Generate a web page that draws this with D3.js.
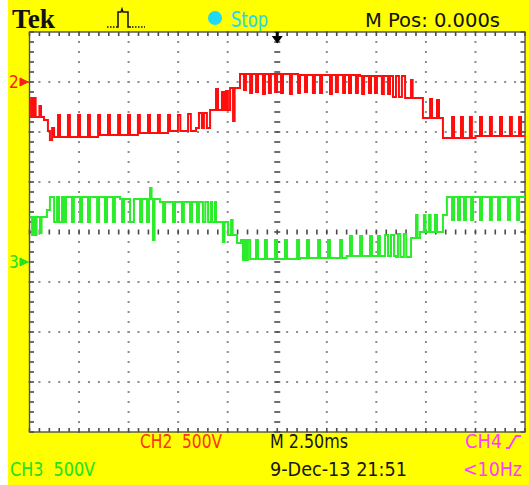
<!DOCTYPE html>
<html>
<head>
<meta charset="utf-8">
<script src="https://cdn.jsdelivr.net/npm/d3@7"></script>
<style>
  html, body { margin: 0; padding: 0; background: #fff; }
  svg { display: block; }
  text { white-space: pre; }
</style>
</head>
<body>
<svg id="scope" width="529" height="485"></svg>
<script>
// ---- acquisition settings ----
const timeRange = [-12.5, 12.5];      // ms, 2.50 ms/div, 10 divisions
const divRange = [-4, 4];             // vertical divisions
const voltsPerDiv = 500;
const channelOffsets = { ch2: 3.0, ch3: -0.6 };   // ground marker, divisions from centre

// ---- CH2 (red): carrier level steps [ms, V] ----
const ch2Levels = [
  [-12.50, -350], [-11.77, -380], [-11.57, -490], [-11.47, -580], [-11.36, -460],
  [-11.26, -550], [-8.94, -530], [-6.93, -510], [-5.41, -490], [-4.10, -460],
  [-3.39, -280], [-2.38, -60], [-1.88, 80], [1.15, 70], [4.18, 60],
  [6.45, -160], [7.35, -360], [8.36, -560], [10.00, -540]
];
// ---- CH2 PWM pulses [start ms, width ms, V] ----
const ch2Pulses = [
  [-12.42, 0.08, -160], [-12.27, 0.08, -160], [-12.00, 0.08, -240],
  [-11.06, 0.10, -330], [-10.56, 0.10, -330], [-10.05, 0.10, -330], [-9.55, 0.10, -330],
  [-9.04, 0.10, -330], [-8.54, 0.10, -330], [-8.03, 0.10, -330], [-7.53, 0.10, -330],
  [-7.03, 0.10, -330], [-6.52, 0.10, -330], [-6.02, 0.10, -330], [-5.51, 0.12, -330],
  [-5.01, 0.12, -330], [-4.50, 0.14, -320], [-3.95, 0.15, -310], [-3.70, 0.15, -310],
  [-3.09, 0.10, -70], [-2.79, 0.10, -100], [-2.59, 0.10, -90], [-2.23, 0.08, -390],
  [-1.68, 0.10, -80], [-1.37, 0.10, -110], [-1.07, 0.10, -100], [-0.72, 0.10, -120],
  [-0.42, 0.10, -110], [-0.11, 0.10, -100], [0.19, 0.10, -110], [0.64, 0.10, -120],
  [1.05, 0.10, -110], [1.40, 0.10, -100], [1.80, 0.10, -110], [2.16, 0.10, -110],
  [2.66, 0.10, -120], [2.96, 0.10, -100], [3.32, 0.10, -110], [3.62, 0.10, -110],
  [3.97, 0.10, -110], [4.28, 0.10, -120], [4.63, 0.10, -110], [4.93, 0.10, -110],
  [5.28, 0.10, -120], [5.59, 0.10, -120], [5.84, 0.15, -150], [6.14, 0.15, -150],
  [6.75, 0.08, 20], [7.71, 0.10, -170], [8.06, 0.10, -180],
  [8.82, 0.10, -350], [9.27, 0.10, -350], [9.72, 0.10, -350], [10.23, 0.10, -350],
  [10.73, 0.10, -350], [11.24, 0.10, -350], [11.74, 0.10, -350], [12.20, 0.10, -350]
];

// ---- CH3 (green): carrier level steps [ms, V] ----
const ch3Levels = [
  [-12.50, 450], [-11.62, 520], [-11.47, 650], [-7.93, 630], [-5.92, 600],
  [-3.09, 400], [-2.48, 270], [-2.03, 190], [-1.83, 220], [-1.37, 30],
  [1.15, 40], [3.50, 60], [5.99, 50], [6.75, 240], [7.20, 300],
  [8.36, 470], [8.56, 650]
];
// ---- CH3 PWM pulses [start ms, width ms, V] ----
const ch3Pulses = [
  [-12.37, 0.08, 270], [-12.22, 0.08, 270], [-11.97, 0.08, 290],
  [-11.26, 0.15, 400], [-11.01, 0.15, 400], [-10.76, 0.10, 400], [-10.36, 0.10, 400],
  [-9.95, 0.10, 400], [-9.55, 0.10, 400], [-9.09, 0.10, 400], [-8.69, 0.10, 400],
  [-8.29, 0.10, 400], [-7.83, 0.10, 400], [-7.43, 0.20, 400], [-6.92, 0.10, 400],
  [-6.57, 0.10, 400], [-6.42, 0.08, 740], [-6.27, 0.08, 220], [-5.76, 0.10, 400],
  [-5.26, 0.10, 400], [-4.81, 0.10, 400], [-4.40, 0.10, 400], [-4.05, 0.10, 400],
  [-3.75, 0.12, 400], [-3.49, 0.15, 400], [-3.29, 0.15, 400],
  [-2.74, 0.08, 200], [-2.33, 0.08, 420], [-1.73, 0.10, 20], [-1.58, 0.10, 20],
  [-1.07, 0.10, 220], [-0.62, 0.10, 220], [-0.11, 0.10, 220], [0.39, 0.10, 220],
  [1.00, 0.10, 220], [1.50, 0.10, 220], [2.06, 0.10, 220], [2.56, 0.10, 220],
  [3.17, 0.10, 220], [3.67, 0.10, 260], [4.18, 0.10, 260], [4.68, 0.10, 260],
  [5.08, 0.10, 260], [5.44, 0.15, 270], [5.74, 0.15, 270],
  [6.09, 0.12, 280], [6.39, 0.12, 280], [7.00, 0.08, 470], [7.40, 0.08, 470],
  [7.66, 0.08, 470], [7.96, 0.10, 470],
  [8.82, 0.10, 420], [9.12, 0.10, 420], [9.42, 0.10, 420], [9.78, 0.10, 420],
  [10.23, 0.10, 420], [10.73, 0.10, 420], [11.14, 0.10, 420], [11.64, 0.10, 420],
  [12.10, 0.10, 420]
];

// ---- readout labels ----
const headerLabels = { brand: "Tek", state: "Stop", position: "M Pos: 0.000s" };
const footerRow1 = [
  { text: "CH2  500V", x: 140, w: 82, color: "#ff3218" },
  { text: "M 2.50ms", x: 270, w: 78, color: "#151515" },
  { text: "CH4", x: 465, w: 37, color: "#ff3cff" }
];
const footerRow2 = [
  { text: "CH3  500V", x: 10, w: 85, color: "#22e022" },
  { text: "9-Dec-13 21:51", x: 270, w: 137, color: "#151515" },
  { text: "<10Hz", x: 463, w: 59, color: "#ff3cff" }
];

// ---- layout ----
const W = 529, H = 485;
const plot = { left: 29.5, right: 525, top: 32, bottom: 432 };
const narrow = "'Liberation Sans Narrow','DejaVu Sans Condensed','Liberation Sans',Arial,sans-serif";

const svg = d3.select("#scope");

const x = d3.scaleLinear().domain(timeRange).range([plot.left, plot.right]);
const yDiv = d3.scaleLinear().domain(divRange).range([plot.bottom, plot.top]);
const yCh = off => v => yDiv(off + v / voltsPerDiv);

// background
svg.append("rect").attr("x", 0).attr("y", 0).attr("width", W).attr("height", H).attr("fill", "#fff");
svg.append("rect").attr("x", 8).attr("y", 0).attr("width", W - 8).attr("height", H).attr("fill", "#ffff00");
svg.append("rect")
  .attr("x", plot.left).attr("y", plot.top)
  .attr("width", plot.right - plot.left).attr("height", plot.bottom - plot.top)
  .attr("fill", "#fff");

// ---- graticule ----
const grid = svg.append("g");
const minorT = d3.range(timeRange[0], timeRange[1] + 1e-9, 0.5);     // 0.2 div steps
const minorV = d3.range(divRange[0], divRange[1] + 1e-9, 0.2);
const majorT = d3.range(timeRange[0] + 2.5, timeRange[1], 2.5).filter(t => Math.abs(t) > 1e-9);
const majorV = d3.range(divRange[0] + 1, divRange[1], 1).filter(v => Math.abs(v) > 1e-9);

const dots = [];
majorT.forEach(t => minorV.forEach(v => dots.push([x(t), yDiv(v)])));
majorV.forEach(v => minorT.forEach(t => dots.push([x(t), yDiv(v)])));
grid.selectAll("rect.dot").data(dots).join("rect")
  .attr("class", "dot")
  .attr("x", d => d[0] - 1).attr("y", d => d[1] - 1)
  .attr("width", 2).attr("height", 2)
  .attr("fill", "#8c8c8c");

// centre lines with 0.2 div ticks
const tickColor = "#4a4a4a";
grid.selectAll("line.ctv").data(minorV).join("line")
  .attr("class", "ctv")
  .attr("x1", x(0) - 3).attr("x2", x(0) + 3)
  .attr("y1", d => yDiv(d)).attr("y2", d => yDiv(d))
  .attr("stroke", tickColor).attr("stroke-width", 1.6);
grid.selectAll("line.cth").data(minorT).join("line")
  .attr("class", "cth")
  .attr("y1", yDiv(0) - 2.5).attr("y2", yDiv(0) + 2.5)
  .attr("x1", d => x(d)).attr("x2", d => x(d))
  .attr("stroke", tickColor).attr("stroke-width", 1.6);

// border ticks
grid.selectAll("line.bl").data(minorV).join("line")
  .attr("class", "bl")
  .attr("x1", plot.left).attr("x2", plot.left + 4.5)
  .attr("y1", d => yDiv(d)).attr("y2", d => yDiv(d))
  .attr("stroke", tickColor).attr("stroke-width", 1.6);
grid.selectAll("line.br").data(minorV).join("line")
  .attr("class", "br")
  .attr("x1", plot.right - 4.5).attr("x2", plot.right)
  .attr("y1", d => yDiv(d)).attr("y2", d => yDiv(d))
  .attr("stroke", tickColor).attr("stroke-width", 1.6);
grid.selectAll("line.bt").data(minorT).join("line")
  .attr("class", "bt")
  .attr("y1", plot.top).attr("y2", plot.top + 4)
  .attr("x1", d => x(d)).attr("x2", d => x(d))
  .attr("stroke", tickColor).attr("stroke-width", 1.6);
grid.selectAll("line.bb").data(minorT).join("line")
  .attr("class", "bb")
  .attr("y1", plot.bottom - 4).attr("y2", plot.bottom)
  .attr("x1", d => x(d)).attr("x2", d => x(d))
  .attr("stroke", tickColor).attr("stroke-width", 1.6);

grid.append("rect")
  .attr("x", plot.left).attr("y", plot.top)
  .attr("width", plot.right - plot.left).attr("height", plot.bottom - plot.top)
  .attr("fill", "none").attr("stroke", "#505050").attr("stroke-width", 1.4);

// ---- waveforms ----
function buildSteps(levels, pulses, tEnd) {
  const baseAt = t => {
    let v = levels[0][1];
    for (const [lt, lv] of levels) if (lt <= t + 1e-9) v = lv;
    return v;
  };
  const events = [];
  levels.forEach(([t, v]) => events.push({ t, v, k: 0 }));
  pulses.forEach(([t, w, v]) => {
    events.push({ t, v, k: 1 });
    events.push({ t: t + w, v: null, k: 2 });
  });
  events.sort((a, b) => a.t - b.t || a.k - b.k);
  const pts = events.map(e => [e.t, e.v === null ? baseAt(e.t) : e.v]);
  pts.push([tEnd, pts[pts.length - 1][1]]);
  return pts;
}

const traces = [
  { levels: ch2Levels, pulses: ch2Pulses, off: channelOffsets.ch2, color: "#ff0d0d" },
  { levels: ch3Levels, pulses: ch3Pulses, off: channelOffsets.ch3, color: "#2aec2a" }
];
svg.append("clipPath").attr("id", "plotClip").append("rect")
  .attr("x", plot.left).attr("y", plot.top)
  .attr("width", plot.right - plot.left).attr("height", plot.bottom - plot.top);

traces.forEach(tr => {
  const y = yCh(tr.off);
  const line = d3.line().x(d => x(d[0])).y(d => y(d[1])).curve(d3.curveStepAfter);
  svg.append("path")
    .datum(buildSteps(tr.levels, tr.pulses, timeRange[1]))
    .attr("clip-path", "url(#plotClip)")
    .attr("d", line)
    .attr("fill", "none")
    .attr("stroke", tr.color)
    .attr("stroke-width", 2)
    .attr("stroke-linejoin", "miter");
});

// trigger position marker
const tx = x(0);
svg.append("path")
  .attr("d", `M${tx - 1.5},${plot.top} h3 v4 h4 l-5.5,7.5 l-5.5,-7.5 h4 z`)
  .attr("fill", "#000");

// channel ground markers
[
  { label: "2", off: channelOffsets.ch2, color: "#ff1a1a" },
  { label: "3", off: channelOffsets.ch3, color: "#22e022" }
].forEach(m => {
  const yy = yDiv(m.off);
  svg.append("text").attr("x", 9).attr("y", yy + 6)
    .attr("font-family", narrow).attr("font-size", 17)
    .attr("fill", m.color).text(m.label);
  svg.append("path")
    .attr("d", `M20,${yy - 4} L28,${yy} L20,${yy + 4} Z M20,${yy} H29`)
    .attr("fill", m.color).attr("stroke", m.color).attr("stroke-width", 1);
});

// ---- header ----
svg.append("text").attr("x", 12).attr("y", 28)
  .attr("font-family", "'Liberation Serif','DejaVu Serif',serif")
  .attr("font-weight", "bold").attr("font-size", 27)
  .attr("textLength", 43).attr("lengthAdjust", "spacingAndGlyphs")
  .attr("fill", "#111").text(headerLabels.brand);

// trigger type glyph
svg.append("path")
  .attr("d", "M116,27 H118 V12 H121 L122,9 L123,12 H128 V27 H131")
  .attr("fill", "none").attr("stroke", "#111").attr("stroke-width", 1.5);
svg.append("path")
  .attr("d", "M107,27 H115 M132,27 H145")
  .attr("fill", "none").attr("stroke", "#111").attr("stroke-width", 1.4)
  .attr("stroke-dasharray", "1.5,1.5");

svg.append("circle").attr("cx", 215).attr("cy", 18).attr("r", 7).attr("fill", "#22d8f2");
svg.append("text").attr("x", 231).attr("y", 27)
  .attr("font-family", narrow).attr("font-size", 21)
  .attr("textLength", 37).attr("lengthAdjust", "spacingAndGlyphs")
  .attr("fill", "#22d8f2").text(headerLabels.state);
svg.append("text").attr("x", 365).attr("y", 27)
  .attr("font-family", narrow).attr("font-size", 20)
  .attr("textLength", 135).attr("lengthAdjust", "spacingAndGlyphs")
  .attr("fill", "#111").text(headerLabels.position);

// ---- footer ----
function footer(rows, baseline) {
  svg.append("g").selectAll("text").data(rows).join("text")
    .attr("x", d => d.x).attr("y", baseline)
    .attr("font-family", narrow).attr("font-size", 19)
    .attr("textLength", d => d.w).attr("lengthAdjust", "spacingAndGlyphs")
    .attr("fill", d => d.color).text(d => d.text);
}
footer(footerRow1, 448);
footer(footerRow2, 476);

// rising-edge slope glyph after CH4
svg.append("path")
  .attr("d", "M506,448 H509 L516,436 H521")
  .attr("fill", "none").attr("stroke", "#ff3cff").attr("stroke-width", 1.8);
</script>
</body>
</html>
